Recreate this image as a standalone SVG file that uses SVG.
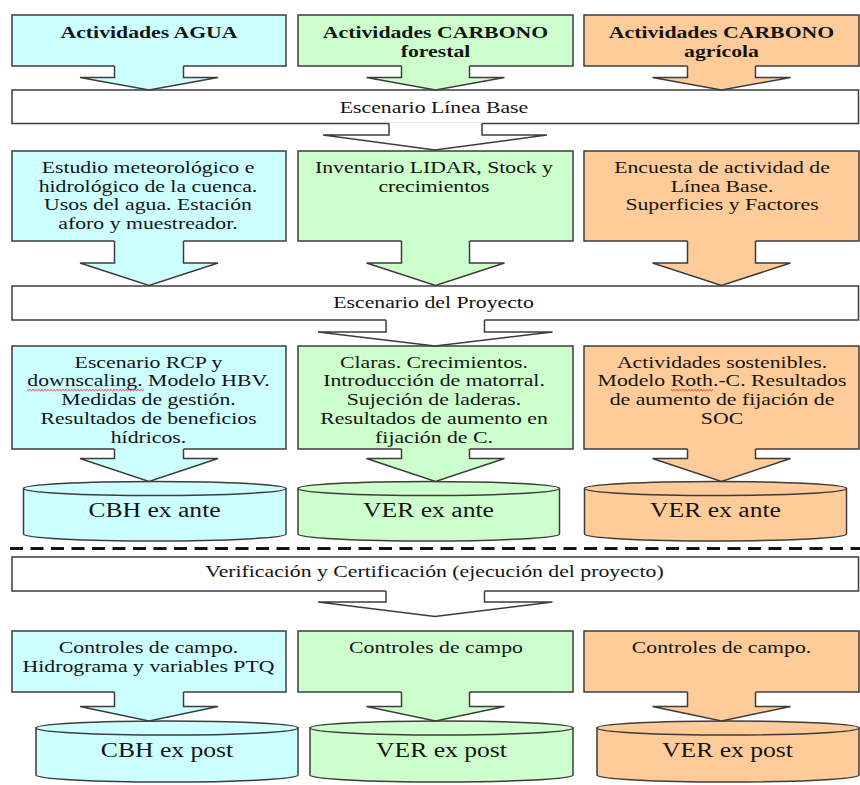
<svg xmlns="http://www.w3.org/2000/svg" width="860" height="785" viewBox="0 0 860 785">
<style>
.b{fill:#CCFFFF}.g{fill:#CCFFCC}.o{fill:#FFCC99}.w{fill:#FFFFFF}
.sh{stroke:#3c3c3c;stroke-width:1.5;stroke-linejoin:miter}
.fo{stroke:none}
.ln{fill:none;stroke:#3c3c3c;stroke-width:1.5}
text{font-family:"Liberation Serif","Times New Roman",serif;fill:#141414;text-anchor:middle}
.t{font-size:17px}
.h{font-size:17px;font-weight:bold}
.c{font-size:20px}
.sq{fill:none;stroke:#e02020;stroke-width:0.9}
</style>
<rect x="0" y="0" width="860" height="785" fill="#FFFFFF"/>

<!-- Row 1 headers -->
<g id="agua-header">
<rect class="b sh" x="12" y="15" width="274" height="51"/>
<text class="h" transform="matrix(1.28 0 0 1 149 0)" x="0" y="38">Actividades AGUA</text>
</g>
<g id="forestal-header">
<rect class="g sh" x="298" y="15" width="275" height="51"/>
<text class="h" transform="matrix(1.28 0 0 1 435.5 0)"><tspan x="0" y="38">Actividades CARBONO</tspan><tspan x="0" y="57">forestal</tspan></text>
</g>
<g id="agricola-header">
<rect class="o sh" x="584" y="15" width="275" height="51"/>
<text class="h" transform="matrix(1.28 0 0 1 721.5 0)"><tspan x="0" y="38">Actividades CARBONO</tspan><tspan x="0" y="57">agrícola</tspan></text>
</g>

<!-- Bar 1 -->
<g id="linea-base">
<rect class="w sh" x="12" y="90" width="846.5" height="33.5"/>
<text class="t" transform="matrix(1.28 0 0 1 434 0)" x="0" y="113">Escenario Línea Base</text>
</g>

<!-- Row 2 -->
<g id="agua-estudio">
<rect class="b sh" x="12" y="151" width="274" height="90"/>
<text class="t" transform="matrix(1.28 0 0 1 148 0)"><tspan x="0" y="173">Estudio meteorológico e</tspan><tspan x="0" y="191.7">hidrológico de la cuenca.</tspan><tspan x="0" y="210.4">Usos del agua. Estación</tspan><tspan x="0" y="229.1">aforo y muestreador.</tspan></text>
</g>
<g id="forestal-inventario">
<rect class="g sh" x="298" y="151" width="275" height="90"/>
<text class="t" transform="matrix(1.28 0 0 1 434 0)"><tspan x="0" y="173">Inventario LIDAR, Stock y</tspan><tspan x="0" y="191.7">crecimientos</tspan></text>
</g>
<g id="agricola-encuesta">
<rect class="o sh" x="584" y="151" width="275" height="90"/>
<text class="t" transform="matrix(1.28 0 0 1 722 0)"><tspan x="0" y="173">Encuesta de actividad de</tspan><tspan x="0" y="191.7">Línea Base.</tspan><tspan x="0" y="210.4">Superficies y Factores</tspan></text>
</g>

<!-- Bar 2 -->
<g id="escenario-proyecto">
<rect class="w sh" x="12" y="286" width="846.5" height="34"/>
<text class="t" transform="matrix(1.28 0 0 1 433.5 0)" x="0" y="308">Escenario del Proyecto</text>
</g>

<!-- Row 3 -->
<g id="agua-escenario">
<rect class="b sh" x="12" y="346" width="274" height="103"/>
<text class="t" transform="matrix(1.28 0 0 1 148.5 0)"><tspan x="0" y="367.7">Escenario RCP y</tspan><tspan x="0" y="386.5">downscaling. Modelo HBV.</tspan><tspan x="0" y="405.3">Medidas de gestión.</tspan><tspan x="0" y="424.1">Resultados de beneficios</tspan><tspan x="0" y="442.9">hídricos.</tspan></text>
<path class="sq" d="M27 389.5 l1.5 1.3 l1.5 -1.3 l1.5 1.3 l1.5 -1.3 l1.5 1.3 l1.5 -1.3 l1.5 1.3 l1.5 -1.3 l1.5 1.3 l1.5 -1.3 l1.5 1.3 l1.5 -1.3 l1.5 1.3 l1.5 -1.3 l1.5 1.3 l1.5 -1.3 l1.5 1.3 l1.5 -1.3 l1.5 1.3 l1.5 -1.3 l1.5 1.3 l1.5 -1.3 l1.5 1.3 l1.5 -1.3 l1.5 1.3 l1.5 -1.3 l1.5 1.3 l1.5 -1.3 l1.5 1.3 l1.5 -1.3 l1.5 1.3 l1.5 -1.3 l1.5 1.3 l1.5 -1.3 l1.5 1.3 l1.5 -1.3 l1.5 1.3 l1.5 -1.3 l1.5 1.3 l1.5 -1.3 l1.5 1.3 l1.5 -1.3 l1.5 1.3 l1.5 -1.3 l1.5 1.3 l1.5 -1.3 l1.5 1.3 l1.5 -1.3 l1.5 1.3 l1.5 -1.3 l1.5 1.3 l1.5 -1.3 l1.5 1.3 l1.5 -1.3 l1.5 1.3 l1.5 -1.3 l1.5 1.3 l1.5 -1.3 l1.5 1.3 l1.5 -1.3 l1.5 1.3 l1.5 -1.3 l1.5 1.3 l1.5 -1.3 l1.5 1.3 l1.5 -1.3 l1.5 1.3 l1.5 -1.3 l1.5 1.3 l1.5 -1.3 l1.5 1.3 l1.5 -1.3 l1.5 1.3 l1.5 -1.3 l1.5 1.3 l1.5 -1.3 l1.5 1.3 l1.5 -1.3"/>
</g>
<g id="forestal-claras">
<rect class="g sh" x="298" y="346" width="275" height="103"/>
<text class="t" transform="matrix(1.28 0 0 1 434 0)"><tspan x="0" y="367.7">Claras. Crecimientos.</tspan><tspan x="0" y="386.5">Introducción de matorral.</tspan><tspan x="0" y="405.3">Sujeción de laderas.</tspan><tspan x="0" y="424.1">Resultados de aumento en</tspan><tspan x="0" y="442.9">fijación de C.</tspan></text>
</g>
<g id="agricola-sostenibles">
<rect class="o sh" x="584" y="346" width="275" height="103"/>
<text class="t" transform="matrix(1.28 0 0 1 722 0)"><tspan x="0" y="367.7">Actividades sostenibles.</tspan><tspan x="0" y="386.5">Modelo Roth.-C. Resultados</tspan><tspan x="0" y="405.3">de aumento de fijación de</tspan><tspan x="0" y="424.1">SOC</tspan></text>
<path class="sq" d="M671 389.5 l1.5 1.3 l1.5 -1.3 l1.5 1.3 l1.5 -1.3 l1.5 1.3 l1.5 -1.3 l1.5 1.3 l1.5 -1.3 l1.5 1.3 l1.5 -1.3 l1.5 1.3 l1.5 -1.3 l1.5 1.3 l1.5 -1.3 l1.5 1.3 l1.5 -1.3 l1.5 1.3 l1.5 -1.3 l1.5 1.3 l1.5 -1.3 l1.5 1.3 l1.5 -1.3 l1.5 1.3 l1.5 -1.3 l1.5 1.3 l1.5 -1.3 l1.5 1.3 l1.5 -1.3"/>
</g>

<!-- Cylinders ex ante -->
<g id="cbh-ex-ante">
<path class="b sh" d="M23.5 488.5 V534 A131.25 7 0 0 0 286 534 V488.5 Z"/>
<ellipse class="b sh" cx="154.75" cy="488.5" rx="131.25" ry="7"/>
<text class="c" transform="matrix(1.28 0 0 1 154.5 0)" x="0" y="517">CBH ex ante</text>
</g>
<g id="ver-forestal-ex-ante">
<path class="g sh" d="M298 488.5 V534 A130.75 7 0 0 0 559.5 534 V488.5 Z"/>
<ellipse class="g sh" cx="428.75" cy="488.5" rx="130.75" ry="7"/>
<text class="c" transform="matrix(1.28 0 0 1 428.5 0)" x="0" y="517">VER ex ante</text>
</g>
<g id="ver-agricola-ex-ante">
<path class="o sh" d="M584.5 488.5 V534 A131 7 0 0 0 846.5 534 V488.5 Z"/>
<ellipse class="o sh" cx="715.5" cy="488.5" rx="131" ry="7"/>
<text class="c" transform="matrix(1.28 0 0 1 715.5 0)" x="0" y="517">VER ex ante</text>
</g>

<line id="separador" x1="10" y1="548.5" x2="860" y2="548.5" stroke="#141414" stroke-width="3" stroke-dasharray="13 7.5"/>

<!-- Bar 3 -->
<g id="verificacion">
<rect class="w sh" x="12" y="557" width="846.5" height="34"/>
<text class="t" transform="matrix(1.28 0 0 1 434.5 0)" x="0" y="577">Verificación y Certificación (ejecución del proyecto)</text>
</g>

<!-- Row 4 -->
<g id="agua-controles">
<rect class="b sh" x="12" y="631" width="274" height="61"/>
<text class="t" transform="matrix(1.28 0 0 1 148.5 0)"><tspan x="0" y="653">Controles de campo.</tspan><tspan x="0" y="672">Hidrograma y variables PTQ</tspan></text>
</g>
<g id="forestal-controles">
<rect class="g sh" x="298" y="631" width="275" height="61"/>
<text class="t" transform="matrix(1.28 0 0 1 436 0)" x="0" y="653">Controles de campo</text>
</g>
<g id="agricola-controles">
<rect class="o sh" x="584" y="631" width="275" height="61"/>
<text class="t" transform="matrix(1.28 0 0 1 721.5 0)" x="0" y="653">Controles de campo.</text>
</g>

<!-- Cylinders ex post -->
<g id="cbh-ex-post">
<path class="b sh" d="M36 728 V775 A131 7 0 0 0 298 775 V728 Z"/>
<ellipse class="b sh" cx="167" cy="728" rx="131" ry="7"/>
<text class="c" transform="matrix(1.28 0 0 1 167 0)" x="0" y="757">CBH ex post</text>
</g>
<g id="ver-forestal-ex-post">
<path class="g sh" d="M310 728 V775 A131.5 7 0 0 0 573 775 V728 Z"/>
<ellipse class="g sh" cx="441.5" cy="728" rx="131.5" ry="7"/>
<text class="c" transform="matrix(1.28 0 0 1 441.5 0)" x="0" y="757">VER ex post</text>
</g>
<g id="ver-agricola-ex-post">
<path class="o sh" d="M597 728 V775 A131 7 0 0 0 859 775 V728 Z"/>
<ellipse class="o sh" cx="728" cy="728" rx="131" ry="7"/>
<text class="c" transform="matrix(1.28 0 0 1 727.5 0)" x="0" y="757">VER ex post</text>
</g>

<!-- Connectors: block arrows -->
<g id="connectors">
<!-- row 1 -->
<path class="b fo" d="M114.5 65 V77.5 H80 L149 90 L218 77.5 H183.5 V65 Z"/>
<path class="ln" d="M114.5 66 V77.5 H80 L149 90 L218 77.5 H183.5 V66"/>
<path class="g fo" d="M401.5 65 V77.5 H366.5 L435.5 90 L504.5 77.5 H469.5 V65 Z"/>
<path class="ln" d="M401.5 66 V77.5 H366.5 L435.5 90 L504.5 77.5 H469.5 V66"/>
<path class="o fo" d="M687.5 65 V77.5 H652.5 L721.5 90 L790.5 77.5 H755.5 V65 Z"/>
<path class="ln" d="M687.5 66 V77.5 H652.5 L721.5 90 L790.5 77.5 H755.5 V66"/>
<!-- bar 1 -->
<path class="w fo" d="M389 122.5 V135 H323 L435 150 L547 135 H482 V122.5 Z"/>
<path class="ln" d="M389 123.5 V135 H323 L435 150 L547 135 H482 V123.5"/>
<!-- row 2 -->
<path class="b fo" d="M114.5 240 V263 H80 L149 285.5 L218 263 H183.5 V240 Z"/>
<path class="ln" d="M114.5 241 V263 H80 L149 285.5 L218 263 H183.5 V241"/>
<path class="g fo" d="M401.5 240 V263 H366.5 L435.5 285.5 L504.5 263 H469.5 V240 Z"/>
<path class="ln" d="M401.5 241 V263 H366.5 L435.5 285.5 L504.5 263 H469.5 V241"/>
<path class="o fo" d="M687.5 240 V263 H652.5 L721.5 285.5 L790.5 263 H755.5 V240 Z"/>
<path class="ln" d="M687.5 241 V263 H652.5 L721.5 285.5 L790.5 263 H755.5 V241"/>
<!-- bar 2 -->
<path class="w fo" d="M386 319 V332 H318 L435 346 L552.5 332 H484.5 V319 Z"/>
<path class="ln" d="M386 320 V332 H318 L435 346 L552.5 332 H484.5 V320"/>
<!-- row 3 -->
<path class="b fo" d="M114.5 448 V458.5 H80 L149 481.5 L218 458.5 H183.5 V448 Z"/>
<path class="ln" d="M114.5 449 V458.5 H80 L149 481.5 L218 458.5 H183.5 V449"/>
<path class="g fo" d="M401.5 448 V458.5 H366.5 L435.5 481.5 L504.5 458.5 H469.5 V448 Z"/>
<path class="ln" d="M401.5 449 V458.5 H366.5 L435.5 481.5 L504.5 458.5 H469.5 V449"/>
<path class="o fo" d="M687.5 448 V458.5 H652.5 L721.5 481.5 L790.5 458.5 H755.5 V448 Z"/>
<path class="ln" d="M687.5 449 V458.5 H652.5 L721.5 481.5 L790.5 458.5 H755.5 V449"/>
<!-- bar 3 -->
<path class="w fo" d="M386 590 V602 H318 L435 616.5 L552.5 602 H484.5 V590 Z"/>
<path class="ln" d="M386 591 V602 H318 L435 616.5 L552.5 602 H484.5 V591"/>
<!-- row 4 -->
<path class="b fo" d="M114.5 691 V706.5 H80 L149 721 L218 706.5 H183.5 V691 Z"/>
<path class="ln" d="M114.5 692 V706.5 H80 L149 721 L218 706.5 H183.5 V692"/>
<path class="g fo" d="M401.5 691 V706.5 H366.5 L435.5 721 L504.5 706.5 H469.5 V691 Z"/>
<path class="ln" d="M401.5 692 V706.5 H366.5 L435.5 721 L504.5 706.5 H469.5 V692"/>
<path class="o fo" d="M687.5 691 V706.5 H652.5 L721.5 721 L790.5 706.5 H755.5 V691 Z"/>
<path class="ln" d="M687.5 692 V706.5 H652.5 L721.5 721 L790.5 706.5 H755.5 V692"/>
</g>
</svg>
